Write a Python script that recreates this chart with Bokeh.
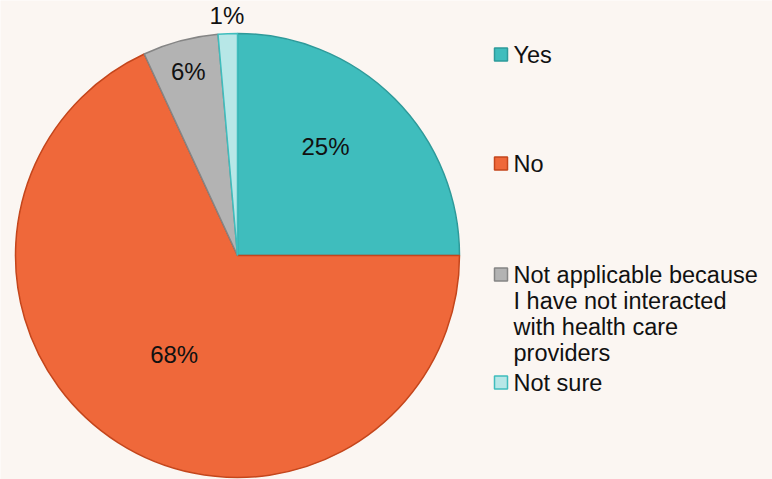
import math
from bokeh.plotting import figure
from bokeh.models import Range1d, ColumnDataSource
from bokeh.core.properties import value
from bokeh.embed import file_html
from bokeh.resources import INLINE

# ---- data ----
categories = ["Yes", "No",
              "Not applicable because\nI have not interacted\nwith health care\nproviders",
              "Not sure"]
shares = [25.0, 68.1, 5.5, 1.4]
fill_colors = ["#3fbdbd", "#ef683a", "#b3b3b3", "#b7e7e7"]
edge_colors = ["#2e9a9a", "#c4461c", "#858585", "#3fbdbd"]

# ---- layout (screen px; y is flipped to data below) ----
W, H = 772, 479
BG = "#fbf6f2"
CX, CY_SCREEN, R = 237, 255, 222
label_r = [0.63, 0.53, 0.86, 1.08]
label_dang = [-6.0, 0.0, 0.0, 0.0]
legend_y_screen = [54, 163, 274, 382]
legend_line_h = 26.3

def ys(y):  # screen y -> data y
    return H - y

p = figure(width=W, height=H, output_backend="svg", toolbar_location=None,
           x_range=Range1d(0, W), y_range=Range1d(0, H),
           min_border=0, background_fill_color=BG, border_fill_color=BG,
           outline_line_color=None)
p.axis.visible = False
p.grid.visible = False

total = sum(shares)
starts, ends, mids = [], [], []
cum = 0.0
for s in shares:
    a0 = 90 - cum / total * 360
    cum += s
    a1 = 90 - cum / total * 360
    starts.append(math.radians(a0))
    ends.append(math.radians(a1))
    mids.append((a0 + a1) / 2)

src = ColumnDataSource(dict(x=[CX] * 4, y=[ys(CY_SCREEN)] * 4, start=starts, end=ends,
                            fill=fill_colors, edge=edge_colors))
p.wedge(x="x", y="y", radius=R, start_angle="start", end_angle="end",
        direction="clock", fill_color="fill", line_color="edge", line_width=1.5,
        source=src)

# percentage labels
lx, ly, lt = [], [], []
for i, s in enumerate(shares):
    phi = math.radians(mids[i] - label_dang[i])
    rr = R * label_r[i]
    lx.append(CX + rr * math.cos(phi))
    ly.append(ys(CY_SCREEN) + rr * math.sin(phi))
    lt.append(f"{s / total * 100:.0f}%")
p.text(x=lx, y=ly, text=lt, text_align="center", text_baseline="middle",
       text_font=value("Liberation Sans"), text_font_size="24px", text_color="#111111")

# legend
mx, my = [], []
tx, ty, tt = [], [], []
for i, cat in enumerate(categories):
    y0 = legend_y_screen[i]
    mx.append(500.5)
    my.append(ys(y0))
    for j, line in enumerate(cat.split("\n")):
        tx.append(513)
        ty.append(ys(y0 + j * legend_line_h))
        tt.append(line)
p.scatter(x=mx, y=my, marker="square", size=13, fill_color=fill_colors,
          line_color=edge_colors, line_width=1.5)
p.text(x=tx, y=ty, text=tt, text_align="left", text_baseline="middle",
       text_font=value("Liberation Sans"), text_font_size="23.5px", text_color="#111111")

open("out.html", "w").write(file_html(p, INLINE))
